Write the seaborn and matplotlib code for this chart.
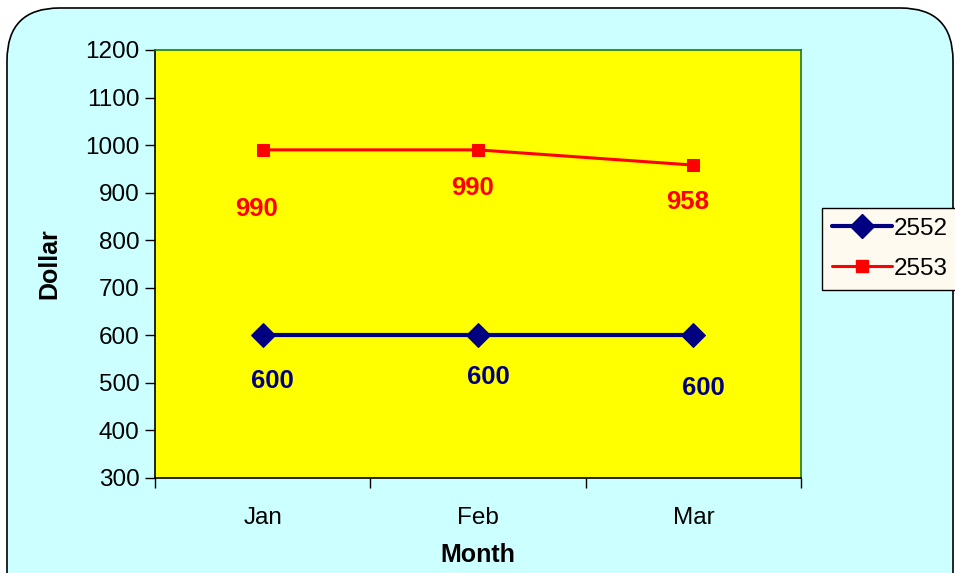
import matplotlib
matplotlib.use("Agg")
import matplotlib.pyplot as plt
import seaborn as sns
import pandas as pd
from matplotlib.patches import FancyBboxPatch
from matplotlib.lines import Line2D

months = ["Jan", "Feb", "Mar"]
series_names = ["2552", "2553"]
values_2552 = [600, 600, 600]
values_2553 = [990, 990, 958]
yticks = [300, 400, 500, 600, 700, 800, 900, 1000, 1100, 1200]

sns.set_theme(style="white")
plt.rcParams["font.family"] = ["Liberation Sans", "DejaVu Sans"]
plt.rcParams["text.color"] = "black"
plt.rcParams["xtick.color"] = "black"
plt.rcParams["ytick.color"] = "black"
plt.rcParams["axes.labelcolor"] = "black"

W, H = 955, 573
fig = plt.figure(figsize=(W / 100, H / 100), dpi=100)
fig.patch.set_facecolor("white")

# rounded chart-area box
box = FancyBboxPatch((7 / W, -0.2), (946 / W), 1 - 8 / H + 0.2,
                     boxstyle="round,pad=0,rounding_size=0.055",
                     transform=fig.transFigure, facecolor="#CCFFFF",
                     edgecolor="black", linewidth=1.2, zorder=-5,
                     mutation_aspect=W / H)
fig.patches.append(box)

ax = fig.add_axes([155 / W, 1 - 478 / H, (801 - 155) / W, (478 - 50) / H])
ax.set_zorder(2)
ax.set_facecolor("#FFFF00")

df = pd.DataFrame({
    "Month": months * 2,
    "x": list(range(len(months))) * 2,
    "Dollar": values_2552 + values_2553,
    "series": [series_names[0]] * 3 + [series_names[1]] * 3,
})

blue = "#000080"
red = "#FF0000"
sns.lineplot(data=df[df.series == "2552"], x="x", y="Dollar", ax=ax,
             color=blue, linewidth=3, marker="D", markersize=12,
             markeredgecolor=blue, legend=False, zorder=3)
sns.lineplot(data=df[df.series == "2553"], x="x", y="Dollar", ax=ax,
             color=red, linewidth=2.2, marker="s", markersize=9,
             markeredgecolor=red, legend=False, zorder=3)

ax.set_xlim(-0.5, len(months) - 0.5)
ax.set_ylim(300, 1200)
ax.set_yticks(yticks)
ax.set_yticklabels([str(v) for v in yticks], fontsize=17.5)
ax.set_xticks([-0.5, 0.5, 1.5, 2.5])
ax.set_xticklabels([])
ax.set_xticks(range(len(months)), minor=True)
ax.set_xticklabels(months, minor=True, fontsize=17.5)
ax.tick_params(axis="x", which="major", direction="out", length=7, width=1, color="black", bottom=True)
ax.tick_params(axis="x", which="minor", length=0, pad=21)
ax.tick_params(axis="y", direction="out", length=7, width=1, color="black", left=True, pad=4)

for s in ["top", "right"]:
    ax.spines[s].set_color("#1a7a1a")
    ax.spines[s].set_linewidth(1.2)
for s in ["left", "bottom"]:
    ax.spines[s].set_color("black")
    ax.spines[s].set_linewidth(1.2)
    ax.spines[s].set_visible(True)

ax.set_xlabel("Month", fontsize=18, fontweight="bold", labelpad=10)
ax.set_ylabel("Dollar", fontsize=18, fontweight="bold", labelpad=17)

# data labels
red_off = [-59, -38, -37]
blue_off = [-46, -42, -53]
for i, v in enumerate(values_2553):
    ax.annotate(str(v), (i, v), xytext=(-6, red_off[i]), textcoords="offset pixels",
                ha="center", va="center", fontsize=18.5, fontweight="bold", color=red)
for i, v in enumerate(values_2552):
    ax.annotate(str(v), (i, v), xytext=(10, blue_off[i]), textcoords="offset pixels",
                ha="center", va="center", fontsize=18.5, fontweight="bold", color=blue)

handles = [
    Line2D([], [], color=blue, linewidth=3, marker="D", markersize=12, markeredgecolor=blue),
    Line2D([], [], color=red, linewidth=2.2, marker="s", markersize=9, markeredgecolor=red),
]
leg = fig.legend(handles, series_names, loc="upper left",
                 bbox_to_anchor=(822 / W, 1 - 208 / H), fontsize=17.5,
                 frameon=True, fancybox=False, borderpad=0.4,
                 handlelength=2.5, handletextpad=0.05, labelspacing=0.75,
                 borderaxespad=0)
leg.get_frame().set_edgecolor("black")
leg.get_frame().set_facecolor("#FFFAF0")
leg.get_frame().set_linewidth(1)
leg.get_frame().set_alpha(1)
for t in leg.get_texts():
    t.set_color("black")

fig.savefig("out.png", dpi=100)
